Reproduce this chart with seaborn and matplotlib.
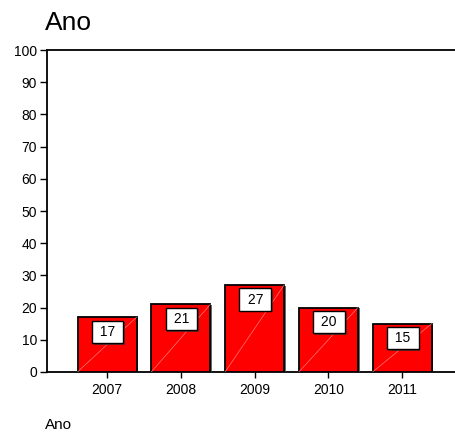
import matplotlib
matplotlib.use("Agg")
import matplotlib.pyplot as plt
import matplotlib.patheffects as pe
import seaborn as sns
import pandas as pd

anos = ["2007", "2008", "2009", "2010", "2011"]
valores = [17, 21, 27, 20, 15]
y_ticks = list(range(0, 101, 10))

sns.set_style("white")
plt.rcParams["font.family"] = ["Liberation Sans", "DejaVu Sans"]
plt.rcParams["text.color"] = "black"
plt.rcParams["xtick.color"] = "black"
plt.rcParams["ytick.color"] = "black"

df = pd.DataFrame({"Ano": anos, "Valor": valores})

fig = plt.figure(figsize=(4.56, 4.32), dpi=100)
ax = fig.add_axes([0.103, 0.139, 0.897, 0.745])

sns.barplot(data=df, x="Ano", y="Valor", color="#FF0000", saturation=1,
            width=0.8, edgecolor="black", linewidth=1.3, ax=ax, zorder=3)

# thin shadow on the right of each bar and faint diagonal highlight
for p in ax.patches:
    x0, y0 = p.get_x(), p.get_y()
    w, h = p.get_width(), p.get_height()
    p.set_path_effects([pe.SimplePatchShadow(offset=(1.2, -0.6),
                                             shadow_rgbFace="#444444", alpha=0.8),
                        pe.Normal()])
    ax.plot([x0, x0 + w], [y0, y0 + h], color="#FF9999", lw=0.5,
            alpha=0.8, zorder=4)

# value labels in boxes just under the bar top
for i, v in enumerate(valores):
    t = ax.annotate(f" {v} ", xy=(i, v), xytext=(0.5, -10.5), textcoords="offset points",
                    ha="center", va="center", fontsize=10, color="black",
                    bbox=dict(boxstyle="square,pad=0.3", fc="white", ec="black", lw=1),
                    zorder=6)
    t.get_bbox_patch().set_path_effects([
        pe.SimplePatchShadow(offset=(1.2, -1.2), shadow_rgbFace="#333333", alpha=0.7),
        pe.Normal()])

ax.set_ylim(0, 100)
ax.set_xlim(-0.814, 4.73)
ax.set_yticks(y_ticks)
ax.set_yticklabels([str(t) for t in y_ticks], fontsize=10)
ax.tick_params(axis="x", labelsize=10, length=4, width=1, direction="out",
               bottom=True, pad=4)
ax.tick_params(axis="y", length=5, width=1, direction="out", left=True, pad=2)

for side in ["left", "top", "bottom"]:
    ax.spines[side].set_visible(True)
    ax.spines[side].set_color("black")
    ax.spines[side].set_linewidth(1.3)
ax.spines["right"].set_visible(False)

ax.set_xlabel("")
ax.set_ylabel("")

fig.text(0.099, 0.931, "Ano", fontsize=19, ha="left", va="baseline")
fig.text(0.099, 0.008, "Ano", fontsize=11, ha="left", va="baseline")

fig.savefig("out.png", dpi=100)
